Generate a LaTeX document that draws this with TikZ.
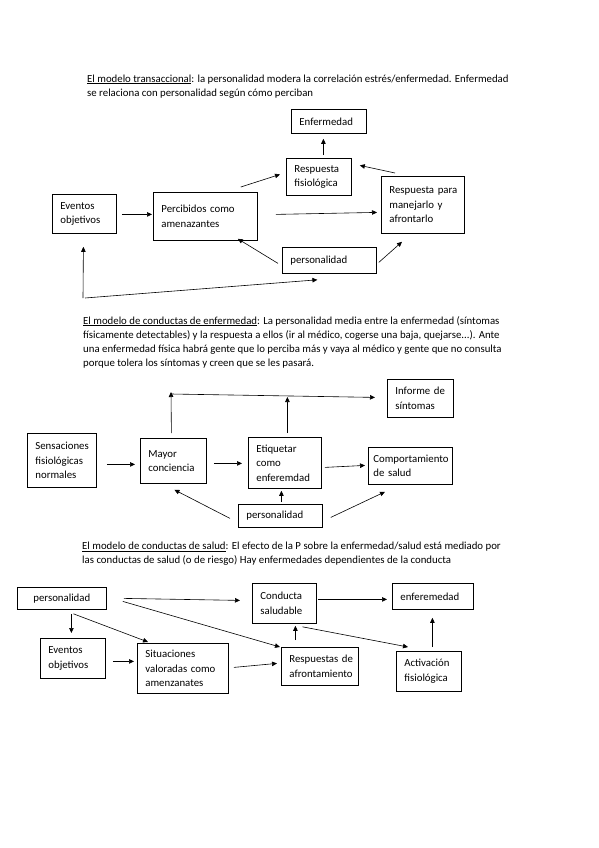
\documentclass[tikz,border=0pt]{standalone}
\usepackage{fontspec}
\setmainfont{Carlito}
\usetikzlibrary{arrows.meta,calc}
\hyphenpenalty=10000
\exhyphenpenalty=10000
\begin{document}
\begin{tikzpicture}[x=1pt,y=-1pt,
  box/.style 2 args={draw, line width=0.8pt, anchor=north west, align=left,
    inner xsep=8pt, inner ysep=2pt, minimum width=#1pt, minimum height=#2pt,
    text width=#1pt-16pt, font=\fontsize{10.8}{14.5}\selectfont},
  titletxt/.style={anchor=north west, align=left, inner sep=0pt,
    font=\fontsize{10.8}{14}\selectfont},
  arr/.style={line width=0.6pt, -{Triangle[length=5pt,width=4.5pt]}},
  ln/.style={line width=0.6pt}]
\useasboundingbox[fill=white] (0,0) rectangle (599,848);

% ---------- Section 1 ----------
\node[titletxt] (t1) at (87,74.5) {\underline{El modelo transaccional}: la personalidad modera la correlación estrés/enfermedad. Enfermedad\\se relaciona con personalidad según cómo perciban};

\node[box={75}{24}] (enf) at (291,109) {Enfermedad};
\node[box={65}{37}] (rfis) at (286,158) {Respuesta\\fisiológica};
\node[box={64}{39}] (ev) at (52,194) {Eventos\\objetivos};
\node[box={104}{48}] (perc) at (153,192) {Percibidos~como\\amenazantes};
\node[box={83}{57}] (rpara) at (381,176) {Respuesta~para\\manejarlo~y\\afrontarlo};
\node[box={94}{26}] (pers1) at (282,247) {personalidad};
\coordinate (c1) at (83,298);

\draw[arr] ($(ev.east)+(5,0.5)$) -- ($(perc.west)+(-1,-2)$);
\draw[arr] ($(perc.east)+(18,-2)$) -- ($(rpara.west)+(-4,7.5)$);
\draw[arr] ($(perc.north east)+(-17,-5)$) -- ($(rfis.west)+(-6,-2.5)$);
\draw[arr] ($(rfis.north)+(4.5,-3)$) -- ($(enf.south)+(-5.5,5)$);
\draw[arr] ($(rpara.north west)+(14,-3)$) -- ($(rfis.east)+(8,-11.5)$);
\draw[arr] ($(pers1.west)+(-4,3)$) -- ($(perc.south east)+(-20,-2)$);
\draw[arr] ($(pers1.east)+(2,2)$) -- ($(rpara.south west)+(21,8)$);
\draw[arr] (c1) -- ($(ev.south)+(-1,13)$);
\draw[arr] ($(c1)+(2,0)$) -- ($(pers1.south)+(-12,6)$);

% ---------- Section 2 ----------
\node[titletxt] (t2) at (83,316) {\underline{El modelo de conductas de enfermedad}: La personalidad media entre la enfermedad (síntomas\\físicamente detectables) y la respuesta a ellos (ir al médico, cogerse una baja, quejarse...). Ante\\una enfermedad física habrá gente que lo perciba más y vaya al médico y gente que no consulta\\porque tolera los síntomas y creen que se les pasará.};

\node[box={66}{38}] (inf) at (387,379) {Informe~de\\síntomas};
\node[box={69}{54}] (sens) at (27,433) {Sensaciones\\fisiológicas\\normales};
\node[box={66}{45}] (mayor) at (140,438) {Mayor\\conciencia};
\node[box={73}{51}] (etiq) at (248,437) {Etiquetar\\como\\enferemdad};
\node[box={84}{37}] (comp) at (368,447) {\hspace*{-3pt}Comportamiento\\\hspace*{-3pt}de~salud};
\node[box={84}{23}] (pers2) at (238,504) {personalidad};
\coordinate (c2) at (171,392);

\draw[arr] ($(mayor.north)+(-2,-5)$) -- (c2);
\draw[arr] ($(c2)+(0,2)$) -- ($(inf.west)+(-12,-1)$);
\draw[arr] ($(etiq.north)+(2.5,-4)$) -- ++(0,-36);
\draw[arr] ($(sens.east)+(10,4)$) -- ($(mayor.west)+(-5,3.5)$);
\draw[arr] ($(mayor.east)+(7,2.5)$) -- ($(etiq.west)+(-6,0.5)$);
\draw[arr] ($(etiq.east)+(3,4.5)$) -- ($(comp.west)+(-3,-0.5)$);
\draw[arr] ($(pers2.west)+(-8,2.5)$) -- ($(mayor.south)+(1,6)$);
\draw[arr] ($(pers2.north)+(1,-2)$) -- ($(etiq.south)+(-3.5,2)$);
\draw[arr] ($(pers2.east)+(8,1.5)$) -- ($(comp.south west)+(17,7)$);

% ---------- Section 3 ----------
\node[titletxt] (t3) at (82,542) {\underline{El modelo de conductas de salud}: El efecto de la P sobre la enfermedad/salud está mediado por\\las conductas de salud (o de riesgo) Hay enfermedades dependientes de la conducta};

\node[box={89}{22}] (pers3) at (17,587) {\hspace*{8pt}personalidad};
\node[box={64}{40}] (cond) at (252,583) {Conducta\\saludable};
\node[box={81}{26}] (enf3) at (392,583) {enferemedad};
\node[box={65}{40}] (ev3) at (40,638) {Eventos\\objetivos};
\node[box={91}{50}] (sit) at (137,643) {Situaciones\\valoradas~como\\amenzanates};
\node[box={77}{38}] (resp) at (281,647) {Respuestas~de\\afrontamiento};
\node[box={65}{40}] (act) at (396,651) {Activación\\fisiológica};

\draw[arr] ($(pers3.east)+(17,0)$) -- ($(cond.west)+(-12,-3)$);
\draw[arr] ($(pers3.east)+(16,3)$) -- ($(resp.north west)+(-1,0)$);
\draw[arr] ($(pers3.south)+(9.5,4)$) -- ($(ev3.north)+(-1.5,-5)$);
\draw[arr] ($(pers3.south)+(11.5,4)$) -- ($(sit.north west)+(11,-1)$);
\draw[arr] ($(ev3.east)+(7,3)$) -- ($(sit.west)+(-3,-7)$);
\draw[arr] ($(sit.east)+(5,-1)$) -- ($(resp.west)+(-4,-3)$);
\draw[arr] ($(resp.north)+(-24.5,-7)$) -- ($(cond.south)+(11,2)$);
\draw[arr] ($(cond.east)+(1,-4)$) -- ($(enf3.west)+(-5,3)$);
\draw[arr] ($(cond.south)+(18,3)$) -- ($(act.north west)+(12,-4)$);
\draw[arr] ($(act.north)+(3.5,-4)$) -- ($(enf3.south)+(-0.5,8)$);
\end{tikzpicture}
\end{document}
